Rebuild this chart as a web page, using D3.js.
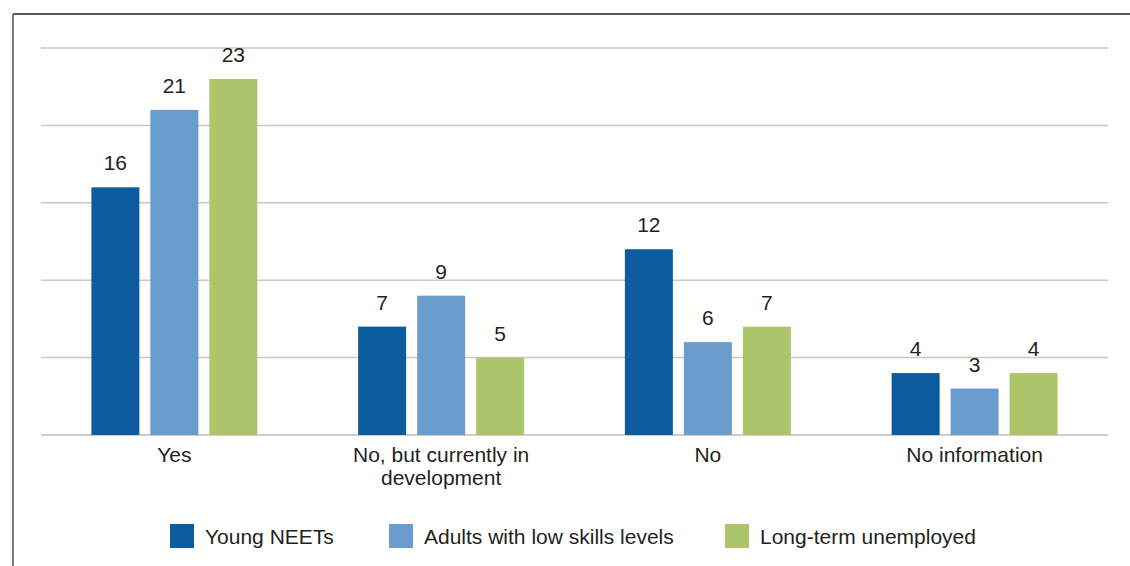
<!DOCTYPE html>
<html><head><meta charset="utf-8">
<script src="https://cdn.jsdelivr.net/npm/d3@7"></script>
<style>body{margin:0;background:#fff}svg{display:block}text{font-family:"Liberation Sans",Arial,sans-serif;fill:#231f20}</style>
</head><body>
<svg id="c" width="1130" height="566"></svg>
<script>
const categories = [["Yes"], ["No, but currently in", "development"], ["No"], ["No information"]];
const seriesNames = ["Young NEETs", "Adults with low skills levels", "Long-term unemployed"];
const youngNEETs = [16, 7, 12, 4];
const adultsLowSkills = [21, 9, 6, 3];
const longTermUnemployed = [23, 5, 7, 4];
const yTicks = [0, 5, 10, 15, 20, 25];
const colors = ["#0c5c9e", "#6a9ccd", "#acc56a"];

const series = [youngNEETs, adultsLowSkills, longTermUnemployed];
const svg = d3.select("#c");
// frame
svg.append("line").attr("x1",13).attr("x2",1130).attr("y1",14).attr("y2",14).attr("stroke","#222").attr("stroke-width",1.5);
svg.append("line").attr("x1",13).attr("x2",13).attr("y1",14).attr("y2",566).attr("stroke","#555").attr("stroke-width",1.5);

const x = d3.scaleBand().domain(d3.range(categories.length)).range([41,1108]);
const y = d3.scaleLinear().domain([0,25]).range([435,48]);
const groupW = 166;
const inner = d3.scaleBand().domain(d3.range(3)).range([0,groupW]).paddingInner(11/59).paddingOuter(0);

svg.append("g").selectAll("line").data(yTicks).join("line")
  .attr("x1",41).attr("x2",1108).attr("y1",d=>y(d)).attr("y2",d=>y(d))
  .attr("stroke",d=>d===0?"#bcbcbc":"#c8c8c8").attr("stroke-width",1.5);

categories.forEach((cat,i)=>{
  const gx = x(i) + x.bandwidth()/2 - groupW/2;
  series.forEach((s,j)=>{
    const bx = gx + inner(j);
    svg.append("rect").attr("x",bx).attr("y",y(s[i])).attr("width",inner.bandwidth()).attr("height",y(0)-y(s[i])).attr("fill",colors[j]);
    svg.append("text").attr("x",bx+inner.bandwidth()/2).attr("y",y(s[i])-17).attr("text-anchor","middle").attr("font-size",21).text(s[i]);
  });
  const t = svg.append("text").attr("x",x(i)+x.bandwidth()/2).attr("y",462).attr("text-anchor","middle").attr("font-size",21);
  cat.forEach((line,k)=>t.append("tspan").attr("x",x(i)+x.bandwidth()/2).attr("dy",k?23:0).text(line));
});

const legX = [170, 389, 725];
seriesNames.forEach((n,j)=>{
  svg.append("rect").attr("x",legX[j]).attr("y",524).attr("width",24).attr("height",24).attr("fill",colors[j]);
  svg.append("text").attr("x",legX[j]+35).attr("y",544).attr("font-size",21).text(n);
});
</script>
</body></html>
